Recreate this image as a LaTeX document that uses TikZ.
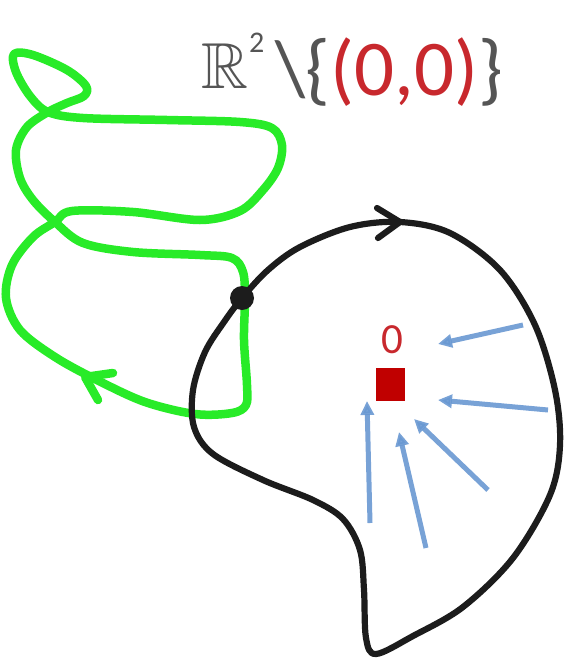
\documentclass[tikz,border=0pt]{standalone}
\usepackage{amssymb}
\usepackage{fontspec}
\setmainfont{Carlito}
\usetikzlibrary{arrows.meta}
\definecolor{grn}{RGB}{40,235,40}
\definecolor{blk}{RGB}{28,28,28}
\definecolor{blu}{RGB}{105,152,210}
\definecolor{redsq}{RGB}{192,0,0}
\definecolor{redtx}{RGB}{200,40,45}
\definecolor{gry}{RGB}{85,85,85}
\begin{document}
\begin{tikzpicture}[x=1pt,y=-1pt,
  greenline/.style={grn, line width=8.5pt, line cap=round, line join=round},
  blackline/.style={blk, line width=6.2pt, line cap=round, line join=round},
  bluearrow/.style={blu, opacity=0.9, line width=5pt, -{Triangle[length=14pt,width=13pt]}},
  txt/.style={anchor=base west, inner sep=0pt}]
\useasboundingbox (0,0) rectangle (564,659);
% green loop
\draw[greenline] plot[smooth cycle, tension=0.55] coordinates {
 (245,298) (244,340) (247,385) (246,405) (232,413) (195,414) (145,402) (97,380)
 (55,357) (20,330) (6,298) (12,265) (33,237) (55,222) (72,211) (133,212)
 (200,220) (240,211) (263,190) (278,168) (282,145) (272,128) (240,122) (167,120)
 (83,118) (48,112) (30,96) (16,72) (14,54) (33,55) (67,70) (86,86)
 (84,96) (67,103) (48,112) (27,127) (16,150) (20,178) (33,200) (55,222)
 (83,243) (133,252) (200,255) (232,258) (243,272)};
\coordinate (gtip) at (85,377);
\coordinate (ga1) at (113,373);
\coordinate (ga2) at (98,400);
\draw[greenline] (ga1) -- (gtip) -- (ga2);
% black loop
\draw[blackline] plot[smooth cycle, tension=0.55] coordinates {
 (300,247) (350,227) (400,222) (450,233) (500,270) (535,325) (555,390) (560,445)
 (550,495) (513,558) (463,607) (413,636) (376,654) (366,638) (364,590) (360,550)
 (343,519) (313,500) (263,480) (213,454) (194,427) (193,390) (205,352) (224,322)
 (242,298) (268,270)};
\coordinate (btip) at (400,222);
\coordinate (ba1) at (377,208);
\coordinate (ba2) at (378,238);
\draw[blackline] (ba1) -- (btip) -- (ba2);
\fill[blk] (242,298) circle (12pt) node (dot) {};
% origin
\node[fill=redsq, minimum width=29pt, minimum height=33pt, inner sep=0pt] (sq) at (390.5,384.5) {};
\node[anchor=base, inner sep=0pt, text=redtx, font=\fontsize{43}{43}\selectfont] (zero) at (392,353) {0};
% blue arrows
\coordinate (t1) at (523,325); \coordinate (h1) at (438,344);
\coordinate (t2) at (548,410); \coordinate (h2) at (438,400);
\coordinate (t3) at (488,490); \coordinate (h3) at (414,419);
\coordinate (t4) at (426,548); \coordinate (h4) at (399,432);
\coordinate (t5) at (370,523); \coordinate (h5) at (367,401);
\foreach \i in {1,...,5} \draw[bluearrow] (t\i) -- (h\i);
% title
\node[txt, text=gry] (R) at (201,88) {\scalebox{6.5}{\fontsize{10}{12}\selectfont$\mathbb{R}$}};
\node[txt, text=gry, font=\fontsize{30}{30}\selectfont] (two) at (249,52) {2};
\node[txt, font=\fontsize{79}{79}\selectfont] (set) at (275,95) {\textcolor{gry}{\textbackslash\{}\textcolor{redtx}{(0,0)}\textcolor{gry}{\}}};
\end{tikzpicture}
\end{document}
